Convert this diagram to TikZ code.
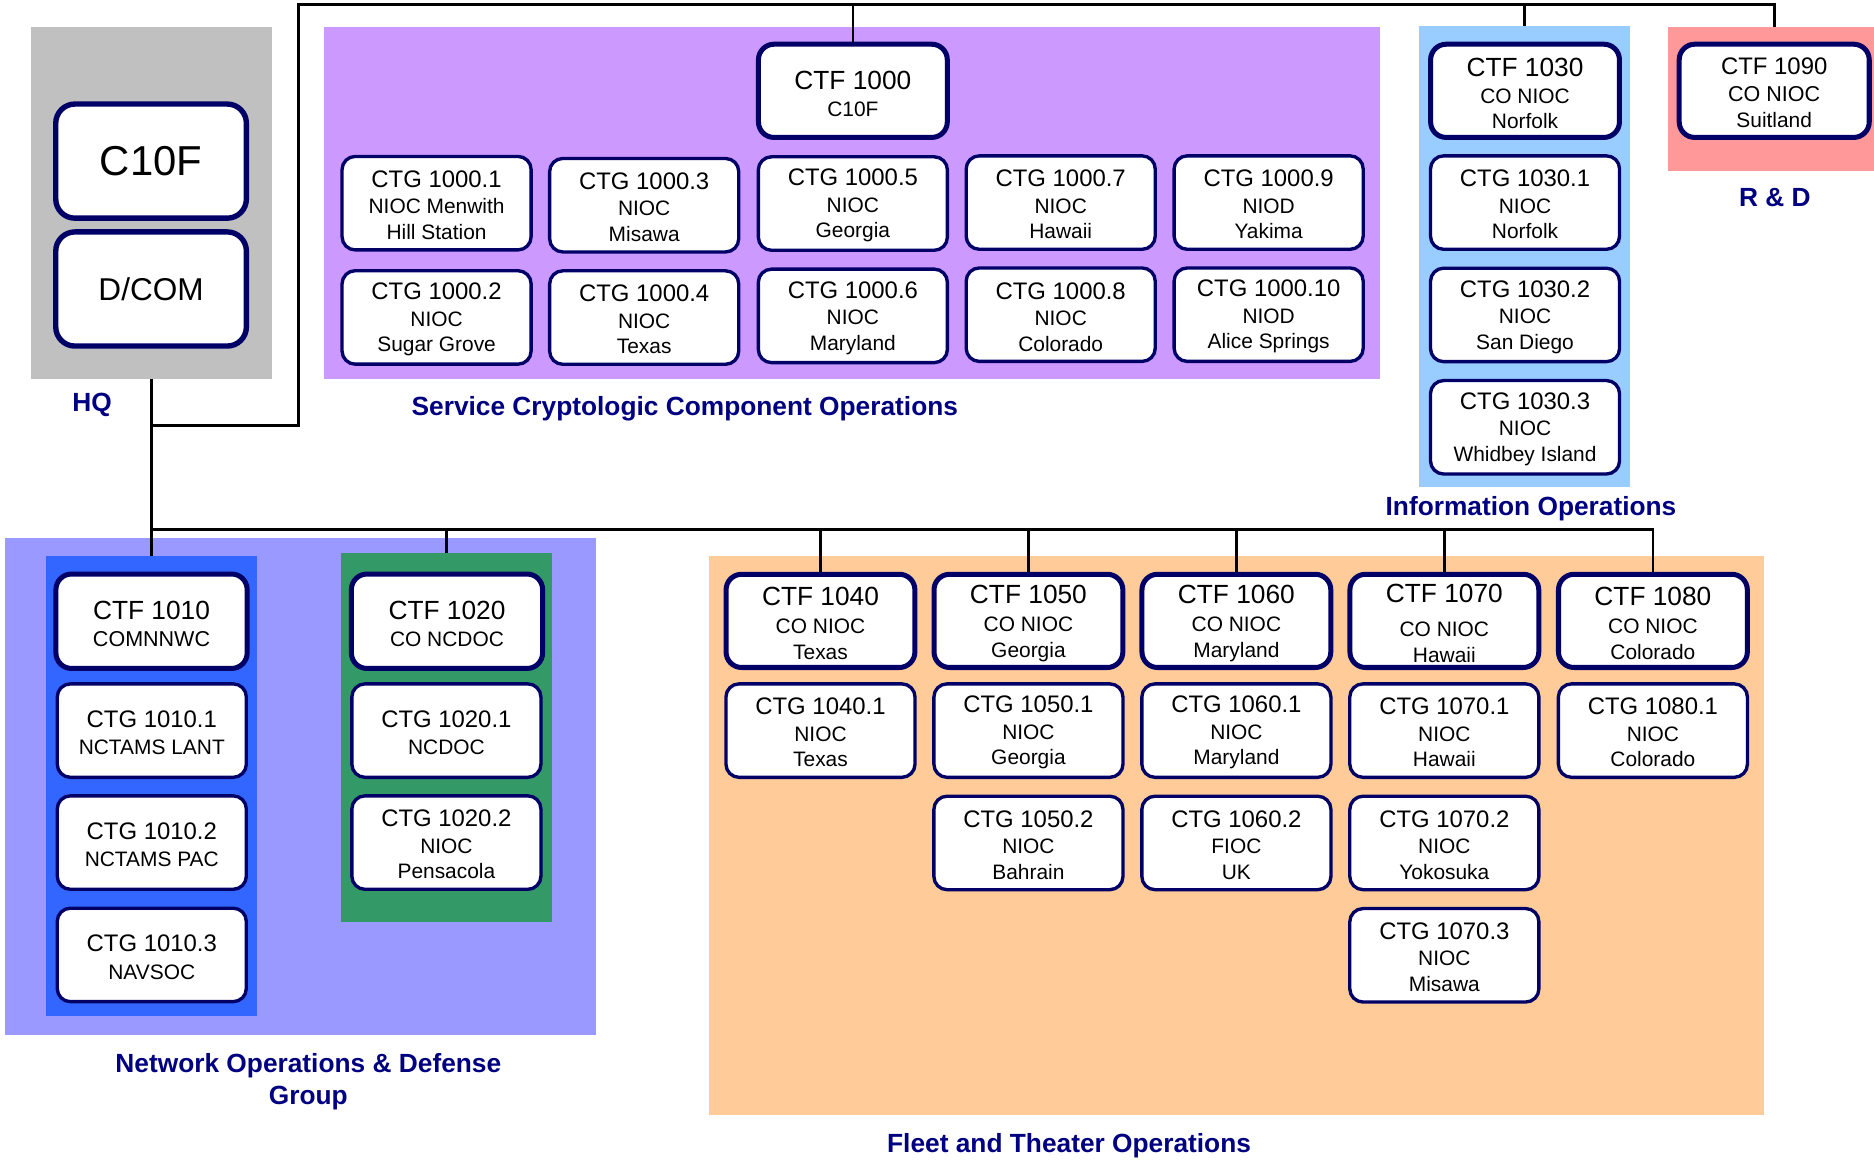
\documentclass[tikz,border=0pt]{standalone}
\usepackage{fontspec}
\setmainfont{Liberation Sans}
\definecolor{navyb}{RGB}{0,0,102}
\definecolor{navyt}{RGB}{0,0,128}
\definecolor{grayhq}{RGB}{192,192,192}
\definecolor{purp}{RGB}{204,153,255}
\definecolor{lblue}{RGB}{153,204,255}
\definecolor{pinkrd}{RGB}{255,153,153}
\definecolor{lav}{RGB}{153,153,255}
\definecolor{bluein}{RGB}{51,102,255}
\definecolor{greenin}{RGB}{51,153,102}
\definecolor{orng}{RGB}{255,204,153}
\tikzset{
  grp/.style={draw=none, inner sep=0pt, outer sep=0pt, anchor=north west},
  ctfbox/.style={draw=navyb, line width=4.2pt, rounded corners=13pt, fill=white,
    minimum width=158pt, minimum height=78pt, inner sep=0pt, align=center,
    font=\fontsize{17.5}{21.5}\selectfont},
  ctgbox/.style={draw=navyb, line width=2.8pt, rounded corners=11pt, fill=white,
    minimum width=158.2pt, minimum height=78.2pt, inner sep=0pt, align=center,
    font=\fontsize{17.5}{21.5}\selectfont},
  hqbox/.style={draw=navyb, line width=4.5pt, rounded corners=16pt, fill=white,
    minimum width=159.5pt, minimum height=95.5pt, inner sep=0pt, align=center},
  conn/.style={line width=2.2pt, draw=black},
  lbl/.style={text=navyt, font=\bfseries\fontsize{22}{27}\selectfont, align=center, inner sep=0pt}
}
\newcommand\ctfhead[1]{{\fontsize{22}{22}\selectfont\rule{0pt}{20pt}#1}}
\newcommand\ctghead[1]{{\fontsize{20}{20}\selectfont\rule{0pt}{17.5pt}#1}}
\begin{document}
\begin{tikzpicture}[x=1pt,y=-1pt]
\useasboundingbox (0,0) rectangle (1568,970.6);
\fill[white] (0,0) rectangle (1568,970.6);

% ---------- group backgrounds ----------
\node[grp, fill=grayhq, minimum width=201.5pt, minimum height=294pt] (hq) at (26,23) {};
\node[grp, fill=purp, minimum width=883.5pt, minimum height=294.2pt] (scco) at (271.5,22.6) {};
\node[grp, fill=lblue, minimum width=176pt, minimum height=385.5pt] (info) at (1187.5,22) {};
\node[grp, fill=pinkrd, minimum width=172pt, minimum height=120.5pt] (rd) at (1396,22.5) {};
\node[grp, fill=lav, minimum width=494.8pt, minimum height=415.5pt] (nod) at (4.2,450.5) {};
\node[grp, fill=bluein, minimum width=176.5pt, minimum height=385pt] (nodin) at (38.5,465) {};
\node[grp, fill=greenin, minimum width=176.7pt, minimum height=309.1pt] (nodgr) at (285.3,462.4) {};
\node[grp, fill=orng, minimum width=883pt, minimum height=468pt] (fleet) at (593,465) {};

% ---------- HQ ----------
\node[hqbox, font=\fontsize{35}{35}\selectfont] (c10f) at (126.4,134.8) {C10F};
\node[hqbox, font=\fontsize{26.4}{26.4}\selectfont] (dcom) at (126.4,241.8) {D/COM};

% ---------- Service Cryptologic ----------
\node[ctfbox] (ctf1000) at (713.6,76) {\ctfhead{CTF 1000}\\[1pt]C10F};
\node[ctgbox] (ctg10001) at (365.3,170) {\ctghead{CTG 1000.1}\\[0.5pt]NIOC Menwith\\Hill Station};
\node[ctgbox] (ctg10002) at (365.3,265.6) {\ctghead{CTG 1000.2}\\[0.5pt]NIOC\\Sugar Grove};
\node[ctgbox] (ctg10003) at (539,171.7) {\ctghead{CTG 1000.3}\\[0.5pt]NIOC\\Misawa};
\node[ctgbox] (ctg10004) at (539,265.7) {\ctghead{CTG 1000.4}\\[0.5pt]NIOC\\Texas};
\node[ctgbox] (ctg10005) at (713.6,170.3) {\ctghead{CTG 1000.5}\\[0.5pt]NIOC\\Georgia};
\node[ctgbox] (ctg10006) at (713.6,264.3) {\ctghead{CTG 1000.6}\\[0.5pt]NIOC\\Maryland};
\node[ctgbox] (ctg10007) at (887.5,169.5) {\ctghead{CTG 1000.7}\\[0.5pt]NIOC\\Hawaii};
\node[ctgbox] (ctg10008) at (887.5,263.3) {\ctghead{CTG 1000.8}\\[0.5pt]NIOC\\Colorado};
\node[ctgbox] (ctg10009) at (1061.5,169.5) {\ctghead{CTG 1000.9}\\[0.5pt]NIOD\\Yakima};
\node[ctgbox] (ctg100010) at (1061.5,263.3) {\ctghead{CTG 1000.10}\\[0.5pt]NIOD\\Alice Springs};

% ---------- Information Operations ----------
\node[ctfbox] (ctf1030) at (1276,76) {\ctfhead{CTF 1030}\\[1pt]CO NIOC\\Norfolk};
\node[ctgbox] (ctg10301) at (1276,169.5) {\ctghead{CTG 1030.1}\\[0.5pt]NIOC\\Norfolk};
\node[ctgbox] (ctg10302) at (1276,263.5) {\ctghead{CTG 1030.2}\\[0.5pt]NIOC\\San Diego};
\node[ctgbox] (ctg10303) at (1276,357.5) {\ctghead{CTG 1030.3}\\[0.5pt]NIOC\\Whidbey Island};

% ---------- R & D ----------
\node[ctfbox, minimum width=159pt] (ctf1090) at (1484.5,76) {\ctghead{CTF 1090}\\[1pt]{\fontsize{18}{21.5}\selectfont CO NIOC}\\Suitland};

% ---------- Network Operations & Defense ----------
\node[ctfbox, minimum width=160pt, minimum height=79pt] (ctf1010) at (126.8,519.8) {\ctfhead{CTF 1010}\\[1pt]{\fontsize{18}{21.5}\selectfont COMNNWC}};
\node[ctgbox] (ctg10101) at (127,611.3) {\ctghead{CTG 1010.1}\\[1.5pt]NCTAMS LANT};
\node[ctgbox] (ctg10102) at (127,705) {\ctghead{CTG 1010.2}\\[1.5pt]NCTAMS PAC};
\node[ctgbox] (ctg10103) at (127,799) {\ctghead{CTG 1010.3}\\[1.5pt]NAVSOC};
\node[ctfbox, minimum width=160pt, minimum height=79pt] (ctf1020) at (374,519.8) {\ctfhead{CTF 1020}\\[1pt]CO NCDOC};
\node[ctgbox] (ctg10201) at (373.5,611.3) {\ctghead{CTG 1020.1}\\[1.5pt]NCDOC};
\node[ctgbox] (ctg10202) at (373.5,705) {\ctghead{CTG 1020.2}\\[0.5pt]NIOC\\Pensacola};

% ---------- Fleet and Theater ----------
\node[ctfbox] (ctf1040) at (686.5,519.5) {\ctfhead{CTF 1040}\\[2pt]CO NIOC\\Texas};
\node[ctfbox] (ctf1050) at (860.5,519.5) {\ctfhead{CTF 1050}\\[2pt]CO NIOC\\Georgia};
\node[ctfbox] (ctf1060) at (1034.5,519.5) {\ctfhead{CTF 1060}\\[2pt]CO NIOC\\Maryland};
\node[ctfbox] (ctf1070) at (1208.5,519.5) {\ctfhead{CTF 1070}\\[7pt]CO NIOC\\Hawaii};
\node[ctfbox] (ctf1080) at (1383,519.5) {\ctfhead{CTF 1080}\\[2pt]CO NIOC\\Colorado};
\node[ctgbox] (ctg10401) at (686.5,611.3) {\ctghead{CTG 1040.1}\\[0.5pt]NIOC\\Texas};
\node[ctgbox] (ctg10501) at (860.5,611.3) {\ctghead{CTG 1050.1}\\[0.5pt]NIOC\\Georgia};
\node[ctgbox] (ctg10601) at (1034.5,611.3) {\ctghead{CTG 1060.1}\\[0.5pt]NIOC\\Maryland};
\node[ctgbox] (ctg10701) at (1208.5,611.3) {\ctghead{CTG 1070.1}\\[0.5pt]NIOC\\Hawaii};
\node[ctgbox] (ctg10801) at (1383,611.3) {\ctghead{CTG 1080.1}\\[0.5pt]NIOC\\Colorado};
\node[ctgbox] (ctg10502) at (860.5,705.3) {\ctghead{CTG 1050.2}\\[0.5pt]NIOC\\Bahrain};
\node[ctgbox] (ctg10602) at (1034.5,705.3) {\ctghead{CTG 1060.2}\\[0.5pt]FIOC\\UK};
\node[ctgbox] (ctg10702) at (1208.5,705.3) {\ctghead{CTG 1070.2}\\[0.5pt]NIOC\\Yokosuka};
\node[ctgbox] (ctg10703) at (1208.5,799.3) {\ctghead{CTG 1070.3}\\[0.5pt]NIOC\\Misawa};

% ---------- labels ----------
\node[lbl] (lhq) at (77,338.5) {HQ};
\node[lbl] (lscco) at (573,342) {Service Cryptologic Component Operations};
\node[lbl] (linfo) at (1281,425.5) {Information Operations};
\node[lbl] (lrd) at (1485,165) {R \& D};
\node[lbl] (lnod) at (258,905) {Network Operations \& Defense\\Group};
\node[lbl] (lfleet) at (894.5,958.5) {Fleet and Theater Operations};

% ---------- connectors ----------
\coordinate (busL) at (126.75,443);
\coordinate (midJ) at (126.75,356);
\coordinate (elbowA) at (250,356);
\coordinate (elbowB) at (250,4);
\draw[conn] (hq.south) -- (busL);
\draw[conn] (busL) -- (ctf1080.north |- busL) -- (ctf1080.north);
\draw[conn] (nodin.north |- busL) -- (nodin.north);
\draw[conn] (nodgr.north |- busL) -- (nodgr.north);
\foreach \n in {ctf1040,ctf1050,ctf1060,ctf1070}
  \draw[conn] (\n.north |- busL) -- (\n.north);
\draw[conn] (midJ) -- (elbowA) -- (elbowB) -- (ctf1090.north |- elbowB) -- (ctf1090.north |- rd.north);
\draw[conn] (ctf1000.north |- elbowB) -- (ctf1000.north);
\draw[conn] (info.north |- elbowB) -- (info.north);
\end{tikzpicture}
\end{document}
